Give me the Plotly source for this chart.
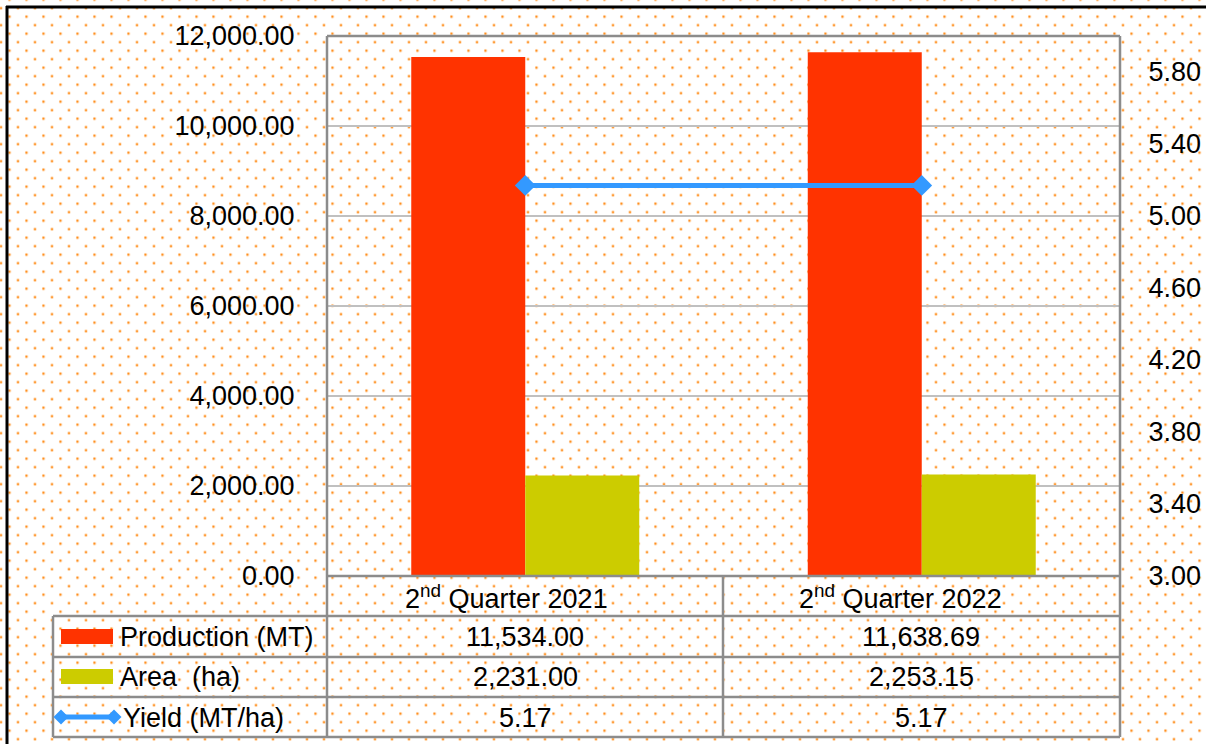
import base64
import plotly.graph_objects as go

# ---- data ----
categories = ["2nd Quarter 2021", "2nd Quarter 2022"]
production = [11534.00, 11638.69]
area = [2231.00, 2253.15]
yield_vals = [5.17, 5.17]
series_names = ["Production (MT)", "Area  (ha)", "Yield (MT/ha)"]
left_ticks = [0, 2000, 4000, 6000, 8000, 10000, 12000]
right_ticks = [3.0, 3.4, 3.8, 4.2, 4.6, 5.0, 5.4, 5.8]

W, H = 1206, 744
RED, YEL, BLUE = "#FF3300", "#CCCC00", "#3399FF"
GRID, LINE = "#C0C0C0", "#8C8C8C"
FONT = "Liberation Sans, Arial, sans-serif"
FS = 27

def px(x):
    return x / W

def py(y):
    return 1 - y / H

# plot area in pixels
L, R, T, B = 327, 1120, 36, 576
MID = 723
rows = [576, 616, 657, 697, 737]

# dotted background as an svg pattern
ox, oy = 5.25, 12.45
svg = (
    f'<svg xmlns="http://www.w3.org/2000/svg" width="{W}" height="{H}">'
    f'<defs><pattern id="d" x="{ox}" y="{oy}" width="17" height="17" patternUnits="userSpaceOnUse">'
    '<circle cx="4.25" cy="4.25" r="1.4" fill="#FFE2C4"/>'
    '<rect x="3.25" y="3.25" width="2" height="2" fill="#FF8000"/>'
    '<circle cx="12.75" cy="12.75" r="1.4" fill="#FFE2C4"/>'
    '<rect x="11.75" y="11.75" width="2" height="2" fill="#FF8000"/>'
    '</pattern></defs>'
    f'<rect width="{W}" height="{H}" fill="white"/>'
    f'<rect width="{W}" height="{H}" fill="url(#d)"/></svg>'
)
bg_src = "data:image/svg+xml;base64," + base64.b64encode(svg.encode()).decode()

fig = go.Figure()
fig.add_trace(go.Bar(x=categories, y=production, name=series_names[0],
                     marker=dict(color=RED, line=dict(width=0))))
fig.add_trace(go.Bar(x=categories, y=area, name=series_names[1],
                     marker=dict(color=YEL, line=dict(width=0))))
fig.add_trace(go.Scatter(x=categories, y=yield_vals, name=series_names[2], yaxis="y2",
                         mode="lines+markers",
                         line=dict(color=BLUE, width=5),
                         marker=dict(symbol="diamond", size=16, color=BLUE)))

shapes = []
def hline(y, x0, x1, color=LINE, w=2.5):
    shapes.append(dict(type="line", xref="paper", yref="paper", x0=px(x0), x1=px(x1),
                       y0=py(y), y1=py(y), line=dict(color=color, width=w)))
def vline(x, y0, y1, color=LINE, w=2.5):
    shapes.append(dict(type="line", xref="paper", yref="paper", x0=px(x), x1=px(x),
                       y0=py(y0), y1=py(y1), line=dict(color=color, width=w)))

# outer black frame
hline(7, 6, W + 5, color="black", w=3)
vline(7, 6, H + 5, color="black", w=3)
# plot border + table lines
hline(T, L, R)
vline(L, T, rows[-1])
vline(R, T, rows[-1])
vline(MID, rows[0], rows[-1])
vline(53, rows[1], rows[-1])
hline(rows[0], L, R)
for r in rows[1:]:
    hline(r, 53, R)

# legend keys
shapes.append(dict(type="rect", xref="paper", yref="paper", x0=px(61), x1=px(113),
                   y0=py(629), y1=py(644), fillcolor=RED, line=dict(width=0)))
shapes.append(dict(type="rect", xref="paper", yref="paper", x0=px(61), x1=px(113),
                   y0=py(669), y1=py(684), fillcolor=YEL, line=dict(width=0)))
shapes.append(dict(type="line", xref="paper", yref="paper", x0=px(60), x1=px(114),
                   y0=py(717), y1=py(717), line=dict(color=BLUE, width=5)))
for cx in (61, 114):
    d = 7.5
    path = (f"M {px(cx - d)} {py(717)} L {px(cx)} {py(717 - d)} "
            f"L {px(cx + d)} {py(717)} L {px(cx)} {py(717 + d)} Z")
    shapes.append(dict(type="path", xref="paper", yref="paper", path=path,
                       fillcolor=BLUE, line=dict(width=0)))

annotations = []
def txt(s, x, y, anchor="center"):
    annotations.append(dict(text=s, x=px(x), y=py(y), xref="paper", yref="paper",
                            xanchor=anchor, yanchor="middle", showarrow=False,
                            font=dict(family=FONT, size=FS, color="black")))

# header row
for cat, cx in zip(categories, (507, 900)):
    txt(cat.replace("2nd", "2<sup>nd</sup>", 1), cx, 597)
# row labels
txt(series_names[0], 118, 637, "left")
txt(series_names[1], 118, 677, "left")
txt(series_names[2], 121, 718, "left")
# values
col_centers = (525, 921)
for i, cx in enumerate(col_centers):
    txt(f"{production[i]:,.2f}", cx, 637)
    txt(f"{area[i]:,.2f}", cx, 677)
    txt(f"{yield_vals[i]:,.2f}", cx, 718)

fig.update_layout(
    width=W, height=H,
    margin=dict(l=0, r=0, t=0, b=0, pad=0),
    paper_bgcolor="white",
    plot_bgcolor="rgba(0,0,0,0)",
    showlegend=False,
    barmode="group", bargap=0.425, bargroupgap=0,
    font=dict(family=FONT, size=FS, color="black"),
    xaxis=dict(domain=[px(L), px(R)], showticklabels=False, ticks="",
               showgrid=False, zeroline=False, showline=False, automargin=False),
    yaxis=dict(domain=[py(B), py(T)], range=[0, 12000], tickvals=left_ticks,
               tickformat=",.2f", showgrid=True, gridcolor=GRID, gridwidth=2,
               zeroline=False, showline=False, ticks="outside", ticklen=26,
               tickcolor="rgba(0,0,0,0)", automargin=False,
               tickfont=dict(family=FONT, size=FS, color="black")),
    yaxis2=dict(overlaying="y", side="right", range=[3, 6], tickvals=right_ticks,
                tickformat=".2f", showgrid=False, zeroline=False, showline=False,
                ticks="outside", ticklen=22, tickcolor="rgba(0,0,0,0)", automargin=False,
                tickfont=dict(family=FONT, size=FS, color="black")),
    shapes=shapes,
    annotations=annotations,
    images=[dict(source=bg_src, xref="paper", yref="paper", x=0, y=1, sizex=1, sizey=1,
                 xanchor="left", yanchor="top", sizing="stretch", layer="below")],
)

fig.write_html("out.html", config={"displayModeBar": False},
               post_script="document.body.style.margin='0px';document.body.style.overflow='hidden';")
